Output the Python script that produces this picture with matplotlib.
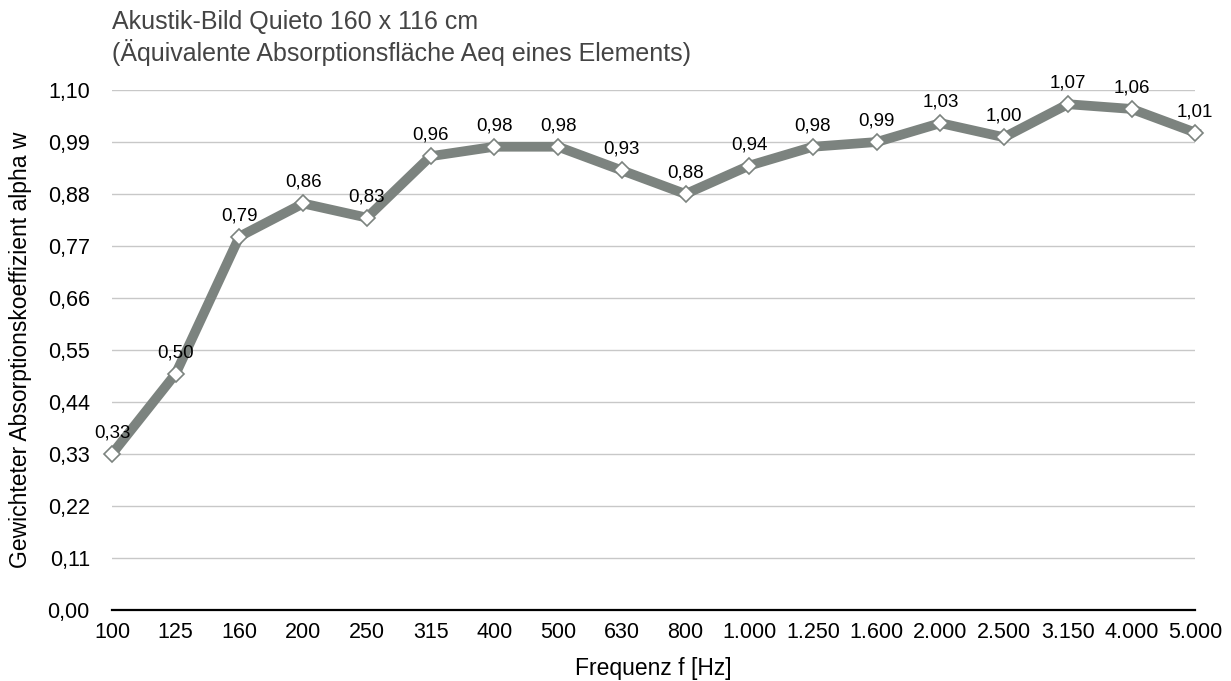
import matplotlib.pyplot as plt
import numpy as np

plt.rcParams['font.family'] = ['Liberation Sans', 'DejaVu Sans']

frequenzen = ['100', '125', '160', '200', '250', '315', '400', '500', '630', '800',
              '1.000', '1.250', '1.600', '2.000', '2.500', '3.150', '4.000', '5.000']
alpha_w = [0.33, 0.50, 0.79, 0.86, 0.83, 0.96, 0.98, 0.98, 0.93, 0.88,
           0.94, 0.98, 0.99, 1.03, 1.00, 1.07, 1.06, 1.01]
y_ticks = [0.00, 0.11, 0.22, 0.33, 0.44, 0.55, 0.66, 0.77, 0.88, 0.99, 1.10]

fig = plt.figure(figsize=(12.31, 6.81), dpi=100)
ax = fig.add_axes([0.091, 0.1043, 0.880, 0.7635])

x = np.arange(len(frequenzen))
ax.plot(x, alpha_w, color='#7c837f', linewidth=7, solid_joinstyle='miter',
        marker='D', markersize=8, markerfacecolor='white',
        markeredgecolor='#7c837f', markeredgewidth=1.2, zorder=3, clip_on=False)

for xi, v in zip(x, alpha_w):
    ax.annotate(f'{v:.2f}'.replace('.', ','), (xi, v), xytext=(0, 9),
                textcoords='offset points', ha='center', va='bottom',
                fontsize=13.5, color='black', zorder=4)

ax.set_xlim(0, len(frequenzen) - 1)
ax.set_ylim(0, 1.10)
ax.set_xticks(x)
ax.set_xticklabels(frequenzen)
ax.set_yticks(y_ticks)
ax.set_yticklabels([f'{t:.2f}'.replace('.', ',') for t in y_ticks])
ax.tick_params(axis='both', length=0, labelsize=15.5)
ax.tick_params(axis='y', pad=16)
ax.tick_params(axis='x', pad=9)

ax.grid(axis='y', color='#c8c8c8', linewidth=1)
ax.set_axisbelow(True)
for s in ['top', 'right', 'left']:
    ax.spines[s].set_visible(False)
ax.spines['bottom'].set_linewidth(1.6)
ax.spines['bottom'].set_color('black')
ax.spines['bottom'].set_zorder(2)

ax.set_xlabel('Frequenz f [Hz]', fontsize=16.5, labelpad=10)
ax.set_ylabel('Gewichteter Absorptionskoeffizient alpha w', fontsize=16.5, labelpad=11)

fig.text(0.091, 0.985, 'Akustik-Bild Quieto 160 x 116 cm\n(Äquivalente Absorptionsfläche Aeq eines Elements)',
         fontsize=18, color='#444444', ha='left', va='top', linespacing=1.2)

plt.savefig('out.png', dpi=100)
